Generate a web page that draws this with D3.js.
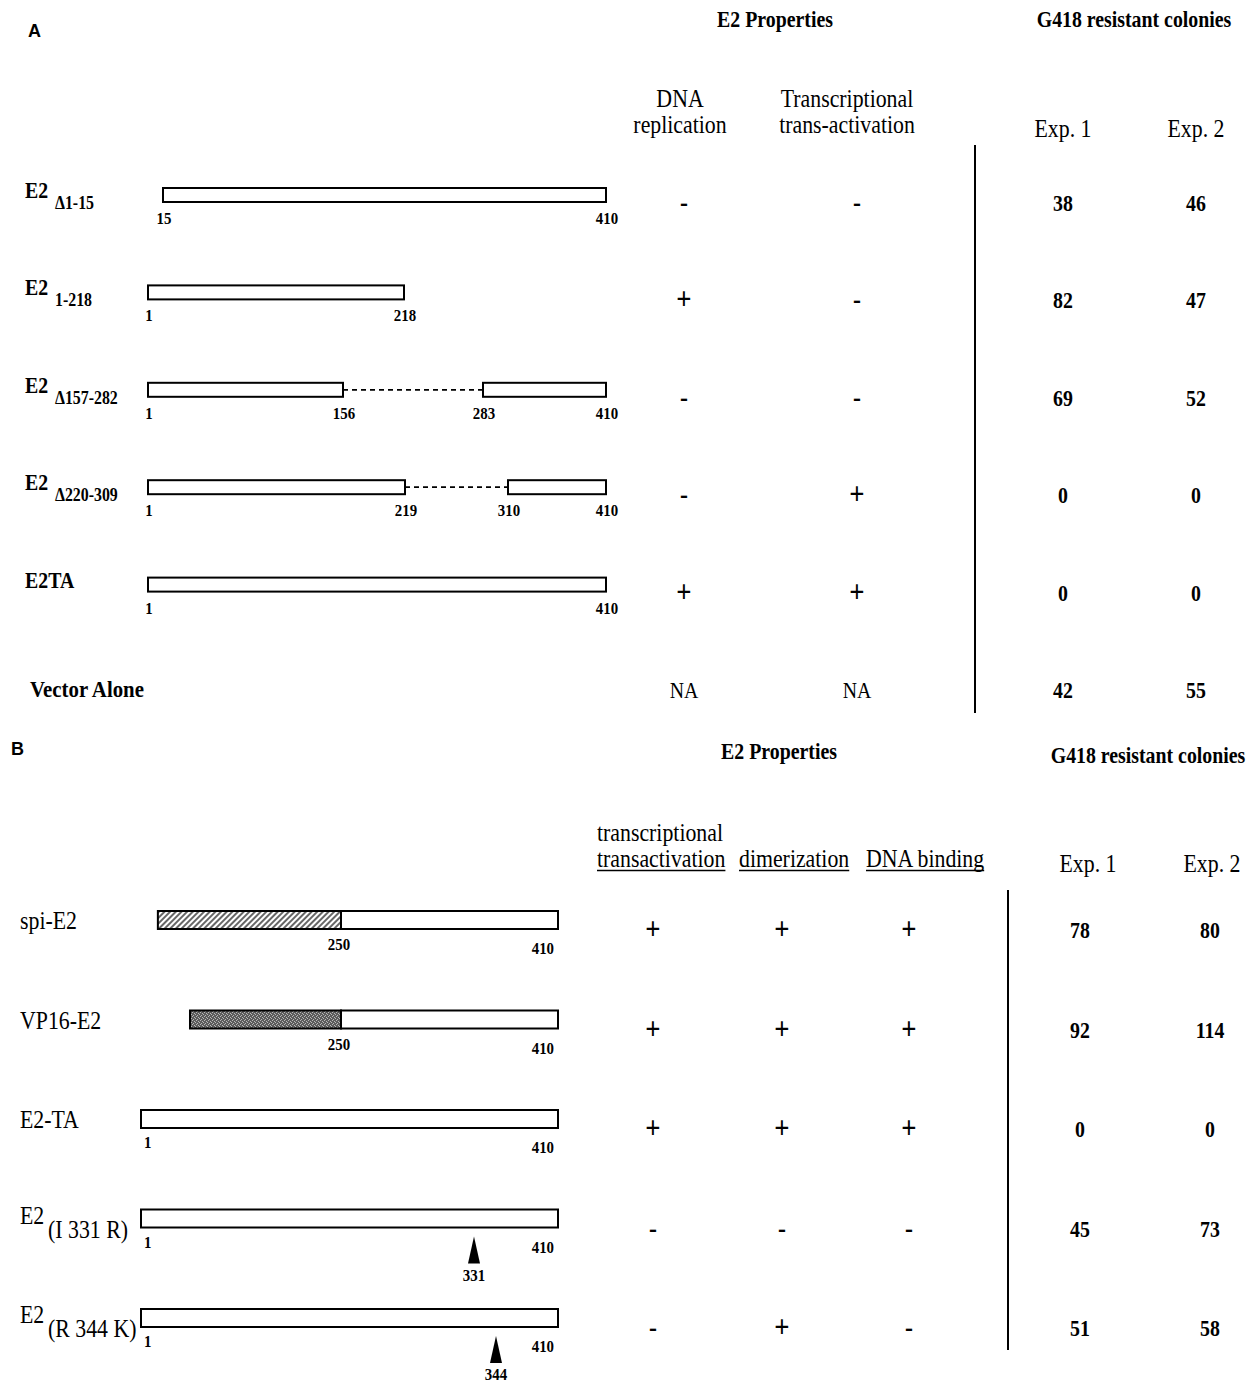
<!DOCTYPE html>
<html>
<head>
<meta charset="utf-8">
<script src="https://cdn.jsdelivr.net/npm/d3@7"></script>
<style>
    body { margin: 0; background: #fff; }
    text { font-family: "Liberation Serif", "Times New Roman", serif; fill: #000; }
</style>
</head>
<body>
<svg id="fig" width="1257" height="1384"></svg>
<script>
/**
 * Panel A data.
 */
const aNames = ['E2', 'E2', 'E2', 'E2', 'E2TA', 'Vector Alone'];
const aSubs = ['Δ1-15', '1-218', 'Δ157-282', 'Δ220-309', '', ''];
const aSegments = [
    [[15, 410]],
    [[1, 218]],
    [[1, 156], [283, 410]],
    [[1, 219], [310, 410]],
    [[1, 410]],
    []
];
const aTicks = [[15, 410], [1, 218], [1, 156, 283, 410], [1, 219, 310, 410], [1, 410], []];
const aReplication = ['-', '+', '-', '-', '+', 'NA'];
const aTransactivation = ['-', '-', '-', '+', '+', 'NA'];
const aExp1 = [38, 82, 69, 0, 0, 42];
const aExp2 = [46, 47, 52, 0, 0, 55];

/**
 * Panel B data.
 */
const bNames = ['spi-E2', 'VP16-E2', 'E2-TA', 'E2', 'E2'];
const bSubs = ['', '', '', '(I 331 R)', '(R 344 K)'];
const bFusion = [[22, 250, 'hatch'], [62, 250, 'stipple'], null, null, null]; // fused N-terminal domain
const bSegments = [[[250, 410]], [[250, 410]], [[1, 410]], [[1, 410]], [[1, 410]]];
const bTicks = [[250, 410], [250, 410], [1, 410], [1, 410], [1, 410]];
const bMutation = [null, null, null, 331, 344];
const bTransactivation = ['+', '+', '+', '-', '-'];
const bDimerization = ['+', '+', '+', '-', '+'];
const bBinding = ['+', '+', '+', '-', '-'];
const bExp1 = [78, 92, 0, 45, 51];
const bExp2 = [80, 114, 0, 73, 58];

/**
 * Layout. The original drawing is not to scale, so residues map piecewise.
 */
const aResidueMarks = [1, 15, 156, 218, 219, 283, 310, 410],
    aResidueRange = [148, 163, 343, 404, 405, 483, 508, 606],
    bResidueMarks = [1, 250, 331, 344, 410],
    bResidueRange = [141, 341, 474, 496, 558];

// The scanned type is narrow and tall: enlarge and squeeze horizontally
const stretch = 1.14, squeeze = 0.87;

const svg = d3.select('#fig');
const defs = svg.append('defs');

// Hatched fill for the spi domain
const hatch = defs.append('pattern').attr('id', 'hatch')
    .attr('patternUnits', 'userSpaceOnUse').attr('width', 4).attr('height', 4)
    .attr('patternTransform', 'rotate(45)');
hatch.append('rect').attr('width', 4).attr('height', 4).attr('fill', '#fff');
hatch.append('line').attr('x1', 1).attr('x2', 1).attr('y1', 0).attr('y2', 4)
    .attr('stroke', '#000').attr('stroke-width', 1.2);

// Stippled grey for VP16
const stipple = defs.append('pattern').attr('id', 'stipple')
    .attr('patternUnits', 'userSpaceOnUse').attr('width', 4).attr('height', 4);
stipple.append('rect').attr('width', 4).attr('height', 4).attr('fill', '#5c5c5c');
[[0, 0], [2, 1], [1, 3], [3, 2]].forEach(p => {
    stipple.append('rect').attr('x', p[0]).attr('y', p[1]).attr('width', 1).attr('height', 1)
        .attr('fill', '#b8b8b8');
});

function label(g, x, y, str, opts) {
    opts = opts || {};
    const t = g.append('text')
        .attr('text-anchor', opts.anchor || 'middle')
        .style('font-weight', opts.bold ? 'bold' : 'normal')
        .text(str);
    if (opts.sans) {
        t.attr('x', x).attr('y', y)
            .style('font-family', '"Liberation Sans", Arial, sans-serif')
            .style('font-size', (opts.size || 22) + 'px');
    } else {
        t.attr('transform', 'translate(' + x + ',' + y + ') scale(' + squeeze + ',1)')
            .style('font-size', (opts.size || 22) * stretch + 'px');
    }
    return t;
}

// Plus / minus entries of the property table
function sign(g, x, y, str) {
    if (str === 'NA') return label(g, x, y + 8, str, { size: 20 });
    return label(g, x, y + (str === '+' ? 9 : 8), str, { size: str === '+' ? 27 : 24, bold: true });
}

/**
 * Draws the construct bars of one row.
 */
function drawConstruct(g, x, cy, h, segments, ticks, fusion, gapDash, tickPlacement) {
    // Dashed line for deleted regions
    for (let k = 0; k < segments.length - 1; k++) {
        g.append('line')
            .attr('x1', x(segments[k][1])).attr('x2', x(segments[k + 1][0]))
            .attr('y1', cy).attr('y2', cy)
            .attr('stroke', '#000').attr('stroke-width', 1.8)
            .attr('stroke-dasharray', gapDash);
    }
    if (fusion) {
        g.append('rect')
            .attr('x', x(fusion[0])).attr('y', cy - h / 2)
            .attr('width', x(fusion[1]) - x(fusion[0])).attr('height', h)
            .attr('fill', 'url(#' + fusion[2] + ')')
            .attr('stroke', '#000').attr('stroke-width', 2);
    }
    segments.forEach(s => {
        g.append('rect')
            .attr('x', x(s[0])).attr('y', cy - h / 2)
            .attr('width', x(s[1]) - x(s[0])).attr('height', h)
            .attr('fill', '#fff').attr('stroke', '#000').attr('stroke-width', 2);
    });
    ticks.forEach((t, k) => {
        const p = tickPlacement(t, k, ticks.length);
        label(g, x(t) + p.dx, cy + h / 2 + p.dy, t, { size: 15, bold: true, anchor: p.anchor });
    });
}

/**
 * Panel A.
 */
(function panelA() {
    const g = svg.append('g').attr('class', 'panel-a');
    const x = d3.scaleLinear().domain(aResidueMarks).range(aResidueRange);
    const y = d3.scalePoint().domain(d3.range(aNames.length)).range([203, 690]);
    const cols = [684, 857, 1063, 1196];

    label(g, 28, 37, 'A', { size: 18, bold: true, anchor: 'start', sans: true });
    label(g, 775, 27, 'E2 Properties', { size: 20, bold: true });
    label(g, 1134, 27, 'G418 resistant colonies', { size: 20, bold: true });
    label(g, 680, 107, 'DNA');
    label(g, 680, 133, 'replication');
    label(g, 847, 107, 'Transcriptional');
    label(g, 847, 133, 'trans-activation');
    label(g, cols[2], 137, 'Exp. 1');
    label(g, cols[3], 137, 'Exp. 2');

    g.append('line').attr('x1', 975).attr('x2', 975).attr('y1', 145).attr('y2', 713)
        .attr('stroke', '#000').attr('stroke-width', 2);

    aNames.forEach((name, i) => {
        const cy = y(i) - 8;
        if (aSegments[i].length) {
            label(g, 25, cy + 3, name, { size: 20, bold: true, anchor: 'start' });
            if (aSubs[i]) label(g, 55, cy + 14, aSubs[i], { size: 16, bold: true, anchor: 'start' });
            drawConstruct(g, x, cy, 14, aSegments[i], aTicks[i], null, '5,4',
                () => ({ dx: 1, dy: 22, anchor: 'middle' }));
        } else {
            label(g, 30, y(i) + 7, name, { size: 21, bold: true, anchor: 'start' });
        }
        sign(g, cols[0], y(i), aReplication[i]);
        sign(g, cols[1], y(i), aTransactivation[i]);
        label(g, cols[2], y(i) + 8, aExp1[i], { size: 20, bold: true });
        label(g, cols[3], y(i) + 8, aExp2[i], { size: 20, bold: true });
    });
})();

/**
 * Panel B.
 */
(function panelB() {
    const g = svg.append('g').attr('class', 'panel-b');
    const x = d3.scaleLinear().domain(bResidueMarks).range(bResidueRange);
    const y = d3.scalePoint().domain(d3.range(bNames.length)).range([930, 1328]);
    const cols = [653, 782, 909, 1080, 1210];

    label(g, 11, 755, 'B', { size: 18, bold: true, anchor: 'start', sans: true });
    label(g, 779, 759, 'E2 Properties', { size: 20, bold: true });
    label(g, 1148, 763, 'G418 resistant colonies', { size: 20, bold: true });
    label(g, 597, 841, 'transcriptional', { anchor: 'start' });

    // Underlined property headers
    [['transactivation', 597], ['dimerization', 739], ['DNA binding', 866]].forEach(h => {
        const t = label(g, h[1], 867, h[0], { anchor: 'start' });
        const w = t.node().getComputedTextLength() * squeeze;
        g.append('line').attr('x1', h[1]).attr('x2', h[1] + w)
            .attr('y1', 870.5).attr('y2', 870.5)
            .attr('stroke', '#000').attr('stroke-width', 1.3);
    });
    label(g, 1088, 872, 'Exp. 1');
    label(g, 1212, 872, 'Exp. 2');

    g.append('line').attr('x1', 1008).attr('x2', 1008).attr('y1', 890).attr('y2', 1350)
        .attr('stroke', '#000').attr('stroke-width', 2);

    bNames.forEach((name, i) => {
        const cy = y(i) - 10;
        if (bSubs[i]) {
            label(g, 20, cy + 5, name, { anchor: 'start' });
            label(g, 48, cy + 19, bSubs[i], { anchor: 'start' });
        } else {
            label(g, 20, cy + 9, name, { anchor: 'start' });
        }

        drawConstruct(g, x, cy, 18, bSegments[i], bTicks[i], bFusion[i], '5,4', (t, k, n) => {
            if (t === 410) return { dx: -4, dy: 25, anchor: 'end' };
            if (t === 1) return { dx: 3, dy: 20, anchor: 'start' };
            return { dx: -2, dy: 21, anchor: 'middle' };
        });

        // Point mutation marker
        if (bMutation[i]) {
            const mx = x(bMutation[i]), top = cy + 9 + 9;
            g.append('path')
                .attr('d', d3.line()([[mx, top], [mx + 6, top + 27], [mx - 6, top + 27]]) + 'Z')
                .attr('fill', '#000');
            label(g, mx, top + 44, bMutation[i], { size: 15, bold: true });
        }

        sign(g, cols[0], y(i), bTransactivation[i]);
        sign(g, cols[1], y(i), bDimerization[i]);
        sign(g, cols[2], y(i), bBinding[i]);
        label(g, cols[3], y(i) + 8, bExp1[i], { size: 20, bold: true });
        label(g, cols[4], y(i) + 8, bExp2[i], { size: 20, bold: true });
    });
})();
</script>
</body>
</html>
